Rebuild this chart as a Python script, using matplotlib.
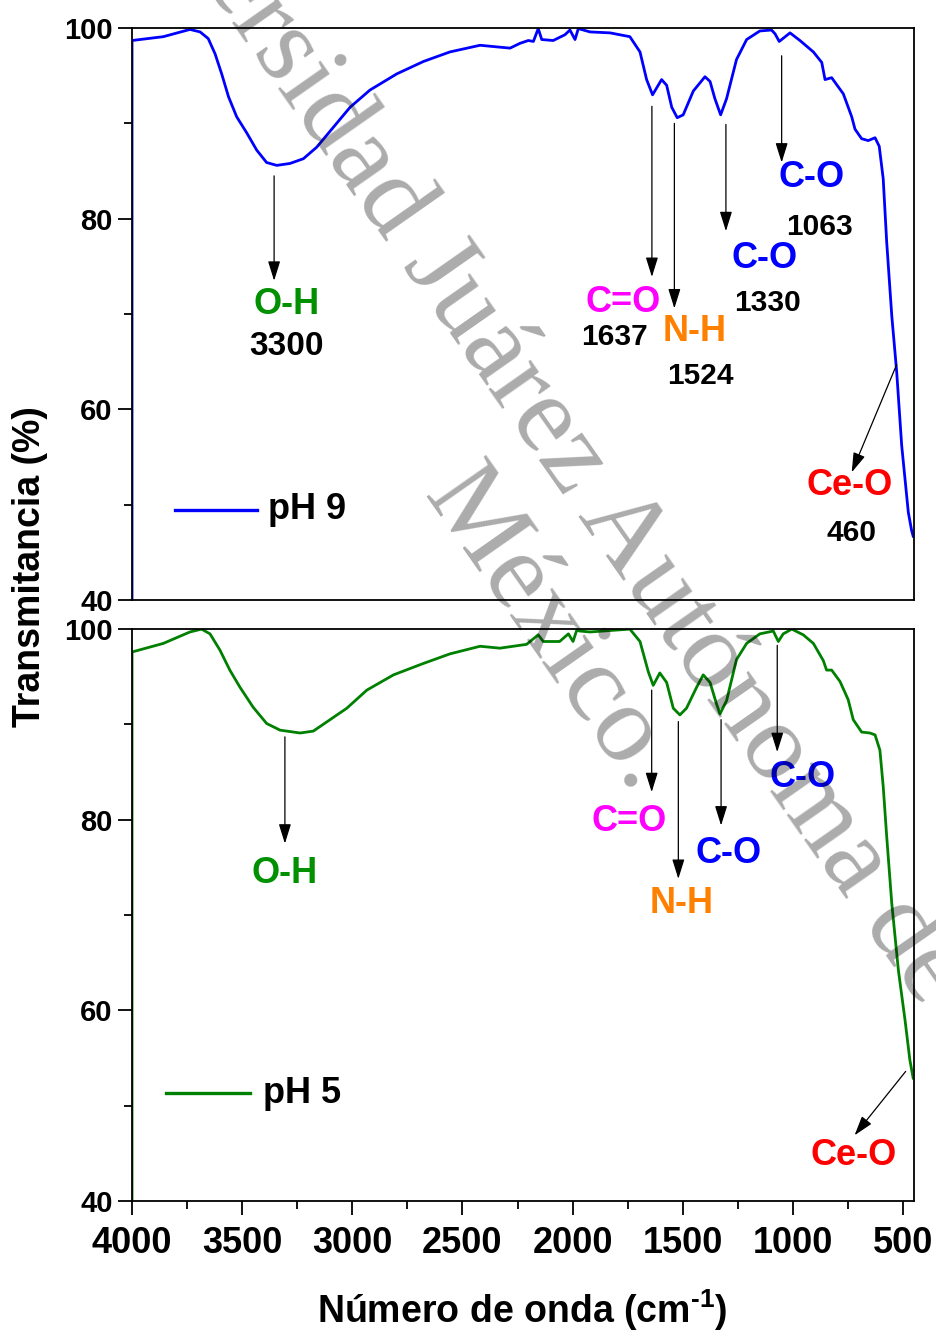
import matplotlib
matplotlib.use("Agg")
import matplotlib.pyplot as plt
from matplotlib.ticker import MultipleLocator

plt.rcParams['font.family'] = ['Liberation Sans', 'DejaVu Sans']
plt.rcParams['font.weight'] = 'bold'
plt.rcParams['mathtext.fontset'] = 'custom'
plt.rcParams['mathtext.rm'] = 'Liberation Sans:bold'
plt.rcParams['mathtext.bf'] = 'Liberation Sans:bold'
plt.rcParams['mathtext.default'] = 'rm'

# FTIR spectra (wavenumber in cm-1, transmittance in %)
wn_ph9 = [4000, 4000, 3858, 3737, 3691, 3654, 3623, 3593, 3562, 3525, 3479, 3434, 3389,
          3343, 3283, 3222, 3162, 3086, 3010, 2920, 2798, 2677, 2557, 2420, 2330, 2284,
          2239, 2201, 2178, 2156, 2140, 2088, 2035, 2012, 1989, 1974, 1921, 1830, 1740,
          1694, 1664, 1637, 1596, 1573, 1550, 1525, 1498, 1452, 1399, 1376, 1354, 1328,
          1301, 1256, 1210, 1150, 1097, 1081, 1062, 1013, 968, 907, 869, 854, 824, 771,
          733, 718, 688, 658, 627, 608, 590, 574, 551, 529, 506, 476, 461, 454]
t_ph9 = [0, 98.7, 99.1, 99.86, 99.6, 98.9, 97.3, 95.2, 92.8, 90.7, 89.0, 87.2, 85.9,
         85.6, 85.8, 86.3, 87.5, 89.6, 91.7, 93.5, 95.2, 96.5, 97.5, 98.2, 98.0, 97.9,
         98.4, 98.7, 98.6, 99.95, 98.8, 98.7, 99.3, 99.8, 98.8, 99.95, 99.6, 99.5, 99.1,
         97.5, 94.6, 93.0, 94.6, 94.0, 91.7, 90.6, 90.9, 93.4, 94.9, 94.4, 92.6, 90.9,
         92.6, 96.7, 98.8, 99.7, 99.8, 99.4, 98.6, 99.5, 98.7, 97.5, 96.4, 94.6, 94.8, 93.1,
         90.7, 89.4, 88.4, 88.2, 88.5, 87.6, 84.2, 77.5, 69.8, 64.0, 56.2, 49.2, 47.3, 46.7]

wn_ph5 = [4000, 4000, 3858, 3737, 3684, 3646, 3601, 3556, 3510, 3450, 3389, 3328, 3237,
          3177, 3101, 3025, 2934, 2813, 2677, 2557, 2420, 2330, 2209, 2156, 2133, 2072,
          2059, 2019, 1998, 1981, 1968, 1921, 1740, 1694, 1656, 1634, 1604, 1573, 1543,
          1513, 1483, 1437, 1407, 1376, 1346, 1331, 1301, 1256, 1210, 1150, 1089, 1066,
          1044, 1005, 953, 907, 862, 847, 824, 786, 749, 726, 688, 650, 627, 605, 590,
          574, 551, 521, 491, 469, 454]
t_ph5 = [0, 97.6, 98.5, 99.7, 100.0, 99.5, 97.8, 95.7, 93.9, 91.8, 90.1, 89.4, 89.1,
         89.3, 90.5, 91.7, 93.6, 95.2, 96.4, 97.4, 98.2, 98.0, 98.4, 99.4, 98.7, 98.7,
         98.7, 99.5, 98.7, 99.9, 99.8, 99.7, 100.0, 98.7, 95.5, 94.1, 95.4, 94.4, 91.7,
         91.0, 91.7, 93.9, 95.2, 94.4, 92.1, 91.1, 92.5, 96.8, 98.5, 99.5, 99.8, 98.7,
         99.5, 100.0, 99.4, 98.5, 96.7, 95.7, 95.7, 94.5, 92.6, 90.5, 89.2, 89.1, 88.9, 87.3,
         83.5, 78.2, 71.2, 64.2, 59.0, 54.8, 52.9]

# band assignments: label, colour, arrow tail, arrow tip, label position, band value text
bands_ph9 = [
    ("O-H", "#009000", (3355, 84.5), (3355, 73.5), (3300, 71.0), "3300", (3300, 66.6)),
    ("C=O", "#ff00ff", (1640, 91.8), (1640, 73.9), (1770, 71.2), "1637", (1812, 67.6)),
    ("N-H", "#ff8000", (1538, 90.0), (1538, 70.6), (1444, 68.2), "1524", (1419, 63.5)),
    ("C-O", "#0000ff", (1304, 89.9), (1304, 78.7), (1127, 75.8), "1330", (1116, 71.2)),
    ("C-O", "#0000ff", (1051, 97.1), (1051, 85.9), (915, 84.3), "1063", (880, 79.1)),
    ("Ce-O", "#ff0000", (529, 64.7), (733, 53.4), (744, 52.0), "460", (733, 47.0)),
]
bands_ph5 = [
    ("O-H", "#009000", (3306, 88.7), (3306, 77.5), (3306, 74.4)),
    ("C=O", "#ff00ff", (1641, 93.6), (1641, 82.9), (1743, 79.8)),
    ("N-H", "#ff8000", (1520, 90.3), (1520, 73.8), (1505, 71.2)),
    ("C-O", "#0000ff", (1326, 90.5), (1326, 79.4), (1294, 76.5)),
    ("C-O", "#0000ff", (1071, 98.3), (1071, 87.1), (956, 84.4)),
    ("Ce-O", "#ff0000", (488, 53.6), (720, 46.9), (725, 44.8)),
]

fig = plt.figure(figsize=(9.37, 13.32), dpi=100)
ax1 = fig.add_axes([0.1409, 0.5495, 0.8346, 0.4294])
ax2 = fig.add_axes([0.1409, 0.0983, 0.8346, 0.4294])

arrow_kw = dict(arrowstyle='-|>,head_length=0.8,head_width=0.25', color='k',
                lw=0.9, mutation_scale=15, shrinkA=0, shrinkB=0)

for ax in (ax1, ax2):
    ax.set_xlim(4000, 450)
    ax.set_ylim(40, 100)
    ax.yaxis.set_major_locator(MultipleLocator(20))
    ax.yaxis.set_minor_locator(MultipleLocator(10))
    ax.xaxis.set_major_locator(MultipleLocator(500))
    ax.xaxis.set_minor_locator(MultipleLocator(250))
    ax.tick_params(axis='y', which='major', length=10, width=1.3, labelsize=21, pad=4)
    ax.tick_params(axis='y', which='minor', length=6, width=1.3)
    ax.tick_params(axis='x', which='major', length=10, width=1.3, labelsize=26, pad=8)
    ax.tick_params(axis='x', which='minor', length=6, width=1.3)
    for s in ax.spines.values():
        s.set_linewidth(1.3)

ax1.tick_params(axis='x', which='both', bottom=False, labelbottom=False)

ax1.plot(wn_ph9, t_ph9, color='#0000ff', lw=2.0)
ax2.plot(wn_ph5, t_ph5, color='#008000', lw=2.0)

for name, col, tail, tip, lpos, num, npos in bands_ph9:
    ax1.annotate('', xy=tip, xytext=tail, arrowprops=arrow_kw)
    ax1.text(*lpos, name, color=col, fontsize=26, ha='center', va='center')
    ax1.text(*npos, num, color='k', fontsize=24 if num == "3300" else 21.5,
             ha='center', va='center')

for name, col, tail, tip, lpos in bands_ph5:
    ax2.annotate('', xy=tip, xytext=tail, arrowprops=arrow_kw)
    ax2.text(*lpos, name, color=col, fontsize=26, ha='center', va='center')

# legend entries
ax1.plot([3805, 3433], [49.5, 49.5], color='#0000ff', lw=2.4)
ax1.text(3383, 49.5, 'pH 9', fontsize=26, ha='left', va='center')
ax2.plot([3846, 3465], [51.3, 51.3], color='#008000', lw=2.4)
ax2.text(3405, 51.3, 'pH 5', fontsize=26, ha='left', va='center')

fig.text(0.032, 1 - 567 / 1332, 'Transmitancia (%)', rotation=90, fontsize=27,
         ha='center', va='center')
fig.text(0.557, 1 - 1310 / 1332, r'Número de onda (cm$^{\text{-1}}$)', fontsize=27,
         ha='center', va='center')

# watermark
wm = dict(rotation=-55.0, rotation_mode='anchor', ha='left', va='baseline',
          fontsize=80, fontweight='normal', family='Liberation Serif',
          color='k', alpha=0.33, zorder=10)
fig.text(0.0794, 1.1519, 'Universidad Juárez Autónoma de Tabasco.', **wm)
fig.text(0.4503, 0.628, 'México.', **wm)

fig.savefig('out.png', dpi=100)
